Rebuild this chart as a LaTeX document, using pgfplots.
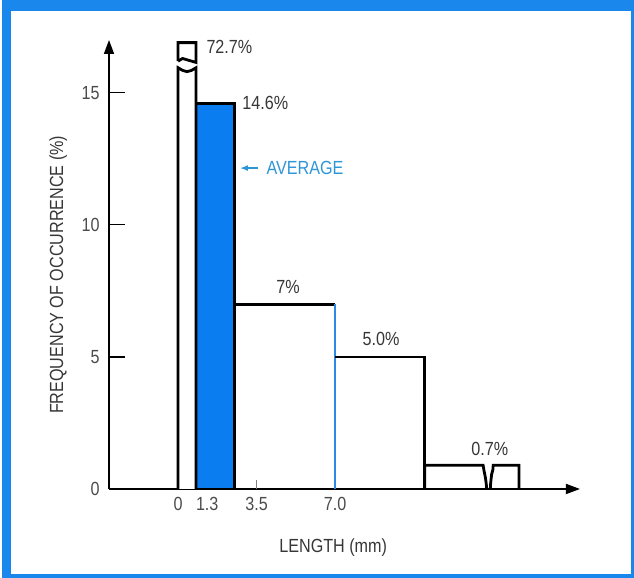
\documentclass[border=0pt]{standalone}
\usepackage{pgfplots}
\pgfplotsset{compat=1.18}
\usetikzlibrary{arrows.meta}
\usepackage{fontspec}
\setmainfont{Liberation Sans}[FakeStretch=0.85]
\definecolor{frameblue}{RGB}{25,135,235}
\definecolor{barblue}{RGB}{10,125,240}
\definecolor{avgblue}{RGB}{45,150,215}
\definecolor{edgeblue}{RGB}{40,140,230}
\definecolor{txt}{RGB}{55,55,55}
\definecolor{ticktxt}{RGB}{75,75,75}
\begin{document}
\begin{tikzpicture}
\useasboundingbox (0,0) rectangle (317pt,289pt);
% blue frame (uneven, as in the scan)
\fill[frameblue] (1pt,0pt) rectangle (5.5pt,289pt);
\fill[frameblue] (1pt,283.5pt) rectangle (317pt,289pt);
\fill[frameblue] (315.5pt,0pt) rectangle (317pt,289pt);
\fill[frameblue] (1pt,0pt) rectangle (317pt,2pt);
\begin{axis}[
  at={(54.5pt,44.5pt)}, anchor=south west,
  scale only axis, width=235.5pt, height=224.5pt,
  xmin=-3.08, xmax=17.92, ymin=0, ymax=17.0,
  axis lines=left,
  axis line style={black, line width=0.8pt, -{Triangle[length=7pt,width=5pt]}},
  ytick={0,5,10,15},
  xtick={0,1.3,3.5,7},
  xticklabels={0,1.3,3.5,7.0},
  tick align=inside,
  major tick length=8pt,
  ytick style={black, line width=0.6pt},
  xtick style={draw=none},
  /pgf/number format/assume math mode=true,
  tick label style={font=\fontsize{9.5}{11}\selectfont, text=ticktxt},
  yticklabel style={inner sep=0pt, xshift=-4.5pt},
  xticklabel style={inner sep=0pt, yshift=-4pt},
  xlabel={LENGTH (mm)},
  ylabel={FREQUENCY OF OCCURRENCE (\%)},
  label style={font=\fontsize{9.5}{11}\selectfont, text=txt},
  xlabel style={at={(axis description cs:0.476,-0.131)}, anchor=center},
  ylabel style={at={(axis description cs:-0.108,0.477)}, anchor=center, rotate=0},
  clip=false,
]
% small tick mark at 3.5
\addplot[gray, line width=0.4pt] coordinates {(3.5,0) (3.5,0.35)};
% bar 3 (2.5 - 7.0, 7 %)
\addplot[black, line width=1.4pt] coordinates {(2.5,7) (7,7)};
\addplot[edgeblue, line width=1.1pt] coordinates {(7,7) (7,0)};
% bar 4 (7.0 - 11.0, 5 %)
\addplot[black, line width=1.4pt] coordinates {(7,5) (11,5) (11,0)};
% bar 5 (broken, 0.7 %)
\addplot[black, line width=1.4pt] coordinates {(11,0) (11,0.9) (13.6,0.9) (13.64,0.7) (13.7,0.45) (13.74,0.2) (13.76,0)};
\addplot[black, line width=1.4pt] coordinates {(13.92,0) (13.94,0.25) (13.98,0.55) (14.04,0.75) (14.05,0.9) (15.2,0.9) (15.2,0)};
% bar 2 (average, 14.6 %)
\addplot[black, line width=1.4pt, fill=barblue] coordinates {(0.8,0) (0.8,14.6) (2.5,14.6) (2.5,0)} \closedcycle;
% bar 1 (broken, 72.7 %)
\addplot[black, line width=1.4pt, fill=white] coordinates {(0,0) (0,15.95) (0.2,15.85) (0.4,15.8) (0.6,15.85) (0.8,15.95) (0.8,0)};
\addplot[black, line width=1.4pt, fill=white] coordinates {(0,16.2) (0.2,16.3) (0.4,16.25) (0.6,16.2) (0.8,16.15) (0.8,16.9) (0,16.9) (0,16.2)};
% value labels
\node[anchor=west, text=txt, font=\fontsize{9.5}{11}\selectfont, inner sep=0pt] at (axis cs:1.25,16.75) {72.7\%};
\node[anchor=west, text=txt, font=\fontsize{9.5}{11}\selectfont, inner sep=0pt] at (axis cs:2.85,14.6) {14.6\%};
\node[anchor=center, text=txt, font=\fontsize{9.5}{11}\selectfont, inner sep=0pt] at (axis cs:4.9,7.65) {7\%};
\node[anchor=center, text=txt, font=\fontsize{9.5}{11}\selectfont, inner sep=0pt] at (axis cs:9.05,5.68) {5.0\%};
\node[anchor=center, text=txt, font=\fontsize{9.5}{11}\selectfont, inner sep=0pt] at (axis cs:13.9,1.52) {0.7\%};
\draw[avgblue, line width=0.7pt, -{Latex[length=4pt,width=3pt]}] (axis cs:3.57,12.15) -- (axis cs:2.76,12.15);
\node[anchor=west, text=avgblue, font=\fontsize{9.5}{11}\selectfont, inner sep=0pt] at (axis cs:3.93,12.15) {AVERAGE};
\end{axis}
\end{tikzpicture}
\end{document}
